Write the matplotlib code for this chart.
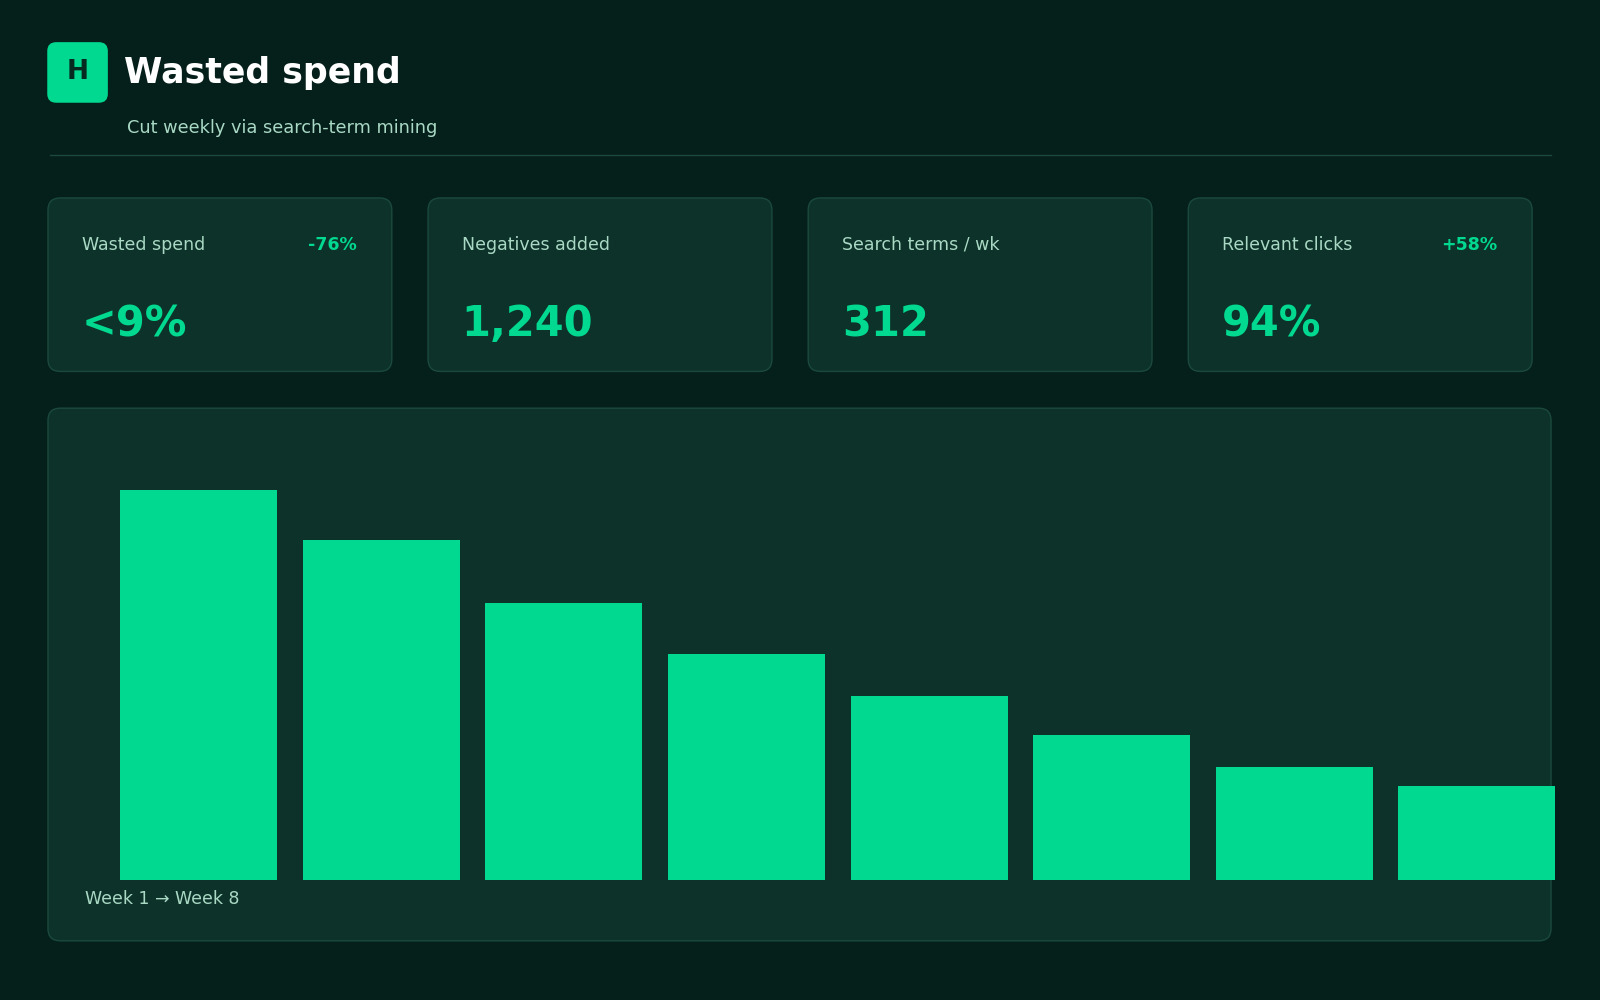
import matplotlib
matplotlib.use("Agg")
import matplotlib.pyplot as plt
from matplotlib.patches import FancyBboxPatch

weeks = ["Week 1","Week 2","Week 3","Week 4","Week 5","Week 6","Week 7","Week 8"]
wasted = [100, 87, 71, 58, 47, 37, 29, 24]
kpi_labels = ["Wasted spend", "Negatives added", "Search terms / wk", "Relevant clicks"]
kpi_values = ["<9%", "1,240", "312", "94%"]
kpi_deltas = ["-76%", "", "", "+58%"]

BG = "#051f1a"; PANEL = "#0d3229"; BORDER = "#1b4a3d"; GREEN = "#00d98f"; MUTED = "#a9d9c5"
W, H = 1568, 980
fig = plt.figure(figsize=(16, 10), dpi=100, facecolor=BG)
ax = fig.add_axes([0, 0, 1, 1]); ax.set_xlim(0, W); ax.set_ylim(H, 0); ax.axis("off")

def rbox(x0, y0, x1, y1, r, fc, ec=None):
    ax.add_patch(FancyBboxPatch((x0 + r, y0 + r), x1 - x0 - 2*r, y1 - y0 - 2*r,
                 boxstyle=f"round,pad={r}", fc=fc, ec=ec or fc, lw=1))

rbox(47, 42, 105, 100, 8, GREEN)
ax.text(76, 71, "H", ha="center", va="center", fontsize=19, weight="bold", color="#062a20")
ax.text(122, 72, "Wasted spend", va="center", fontsize=25, weight="bold", color="white")
ax.text(124, 125, "Cut weekly via search-term mining", va="center", fontsize=12.8, color=MUTED)
ax.plot([49, 1520], [152, 152], color=BORDER, lw=1)

for i in range(4):
    x0 = 47 + i*372.5
    rbox(x0, 194, x0 + 337, 364, 12, PANEL, BORDER)
    ax.text(x0 + 33, 240, kpi_labels[i], va="center", fontsize=12.5, color=MUTED)
    if kpi_deltas[i]:
        ax.text(x0 + 303, 240, kpi_deltas[i], va="center", ha="right", fontsize=12.5, weight="bold", color=GREEN)
    ax.text(x0 + 33, 318, kpi_values[i], va="center", fontsize=30, weight="bold", color=GREEN)

rbox(47, 400, 1520, 922, 12, PANEL, BORDER)
ax.text(83, 881, "Week 1 \u2192 Week 8", va="center", fontsize=12.5, color=MUTED)

bx = fig.add_axes([118/W, (H-862)/H, (1524-118)/W, (862-480)/H])
bx.set_facecolor("none"); bx.axis("off")
bx.bar(range(len(wasted)), wasted, width=0.86, color=GREEN)
bx.set_xlim(-0.43, len(wasted) - 1 + 0.43); bx.set_ylim(0, max(wasted))

fig.savefig("out.png", facecolor=BG)
